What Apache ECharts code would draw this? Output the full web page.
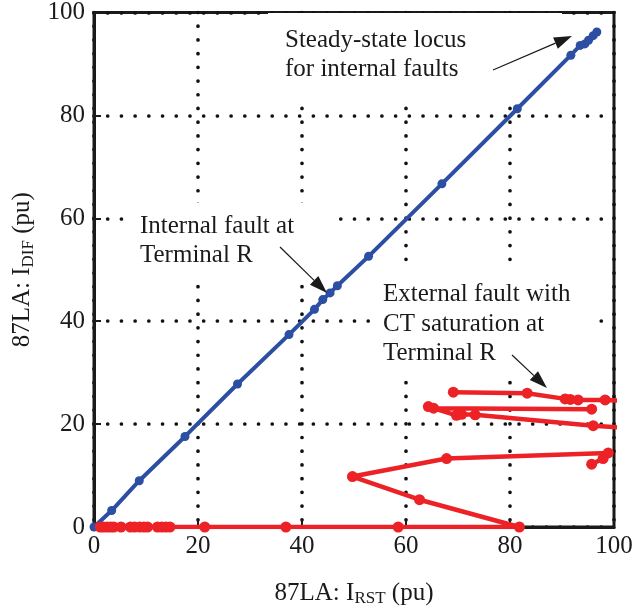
<!DOCTYPE html>
<html><head><meta charset="utf-8">
<script src="https://cdn.jsdelivr.net/npm/echarts@6/dist/echarts.min.js"></script>
<style>html,body{margin:0;padding:0;background:#fff}#c{width:636px;height:612px}</style>
</head><body><div id="c"></div>
<script>
// ---- data ----
const internalFault = [[0,0],[3.4,3.2],[8.7,9.0],[17.5,17.6],[27.6,27.8],[37.5,37.4],[42.4,42.3],[44.0,44.2],[45.4,45.5],[46.8,46.9],[52.8,52.6],[66.9,66.7],[81.4,81.3],[91.7,91.7],[93.5,93.6],[94.4,93.9],[95.1,94.6],[96.0,95.5],[96.7,96.2]];
const externalFaultA = [[1.2,0],[1.8,0],[2.5,0],[3.2,0],[3.8,0],[5.2,0],[7.0,0],[7.8,0],[8.8,0],[9.6,0],[10.3,0],[12.2,0],[13.0,0],[13.8,0],[14.6,0],[21.3,0],[36.9,0],[58.5,0],[81.8,0],[62.6,5.3],[49.7,9.8],[67.8,13.3],[98.9,14.4],[97.9,13.3],[95.7,12.2]];
const externalFaultB = [[69.1,26.2],[83.3,26.0],[90.6,24.9],[91.6,24.8],[93.1,24.7],[98.3,24.7],[103,24.5]];
const externalFaultC = [[95.7,22.9],[65.3,23.1],[64.3,23.4],[69.7,21.7],[70.7,21.9],[73.3,21.8],[96.0,19.7],[103,19.2]];
const xRange = [0, 100, 20];   // min, max, interval
const yRange = [0, 100, 20];
const xTitle = ['87LA: I', 'RST', ' (pu)'];
const yTitle = ['87LA: I', 'DIF', ' (pu)'];
const notes = [
  ['Steady-state locus', 'for internal faults'],
  ['Internal fault at', 'Terminal R'],
  ['External fault with', 'CT saturation at', 'Terminal R']
];

const FONT = "'Liberation Serif','Times New Roman',serif";
const INK = '#1a1a1a';
const BLUE = '#2c4ea3';
const RED = '#ec2227';
const FS = 25;

const chart = echarts.init(document.getElementById('c'), null, {renderer: 'canvas'});

const dotted = {color: '#111', width: 3.7, type: [0.01, 13.7], cap: 'round'};
function axisCommon(r, title) {
  return {
    type: 'value', min: r[0], max: r[1], interval: r[2],
    axisLine: {show: true, lineStyle: {color: INK, width: 3}},
    axisTick: {show: true, inside: true, length: 7, lineStyle: {color: INK, width: 2}},
    axisLabel: {color: INK, fontSize: FS, fontFamily: FONT},
    splitLine: {show: true, lineStyle: dotted},
    name: '{a|' + title[0] + '}{s|' + title[1] + '}{a|' + title[2] + '}',
    nameLocation: 'middle',
    nameTextStyle: {
      rich: {
        a: {fontSize: FS, fontFamily: FONT, color: INK, lineHeight: 28},
        s: {fontSize: 17, fontFamily: FONT, color: INK, lineHeight: 28, verticalAlign: 'bottom'}
      }
    }
  };
}
const xAxis = Object.assign(axisCommon(xRange, xTitle), {nameGap: 52});
xAxis.axisLabel.margin = 7;
const yAxis = Object.assign(axisCommon(yRange, yTitle), {nameGap: 52, nameRotate: 90});
yAxis.axisLabel.margin = 9;

function lineSeries(data, color, size, w) {
  return {
    type: 'line', data: data, clip: true, animation: false,
    symbol: 'circle', symbolSize: size, showSymbol: true,
    lineStyle: {color: color, width: w},
    itemStyle: {color: color},
    z: 3
  };
}

// annotation layout (pixels)
const graphics = [];
function whiteBox(x0, y0, x1, y1) {
  graphics.push({type: 'rect', z: 1, silent: true,
    shape: {x: x0, y: y0, width: x1 - x0, height: y1 - y0},
    style: {fill: '#fff'}});
}
function textBlock(lines, x, firstBaseline, step) {
  lines.forEach((t, i) => {
    graphics.push({type: 'text', z: 5, silent: true,
      style: {text: t, x: x, y: firstBaseline + i * step - 8.5, fill: INK,
        font: FS + 'px ' + FONT, align: 'left', verticalAlign: 'middle'}});
  });
}
function arrow(x0, y0, x1, y1) {
  const dx = x1 - x0, dy = y1 - y0, L = Math.hypot(dx, dy);
  const ux = dx / L, uy = dy / L, hl = 18, hw = 6;
  const bx = x1 - ux * hl, by = y1 - uy * hl;
  graphics.push({type: 'line', z: 5, silent: true,
    shape: {x1: x0, y1: y0, x2: bx, y2: by}, style: {stroke: INK, lineWidth: 1.2}});
  graphics.push({type: 'polygon', z: 5, silent: true,
    shape: {points: [[x1, y1], [bx - uy * hw, by + ux * hw], [bx + uy * hw, by - ux * hw]]},
    style: {fill: INK}});
}
whiteBox(268, 13, 562, 106);
whiteBox(126, 203, 336, 283);
whiteBox(370, 266, 596, 378);
textBlock(notes[0], 285, 49, 29);
textBlock(notes[1], 140, 235, 29);
textBlock(notes[2], 383, 303, 29.7);
arrow(493, 70, 572, 36);
arrow(280, 247, 327, 293);
arrow(512, 355, 547, 388);

chart.setOption({
  animation: false,
  backgroundColor: '#fff',
  grid: {left: 94, right: 22, top: 10, bottom: 82, show: true, borderColor: INK, borderWidth: 3, backgroundColor: 'transparent'},
  xAxis: xAxis,
  yAxis: yAxis,
  series: [
    lineSeries(internalFault, BLUE, 9, 4),
    lineSeries(externalFaultA, RED, 11, 4.5),
    lineSeries(externalFaultB, RED, 11, 4.5),
    lineSeries(externalFaultC, RED, 11, 4.5)
  ],
  graphic: {elements: graphics}
});
</script></body></html>
